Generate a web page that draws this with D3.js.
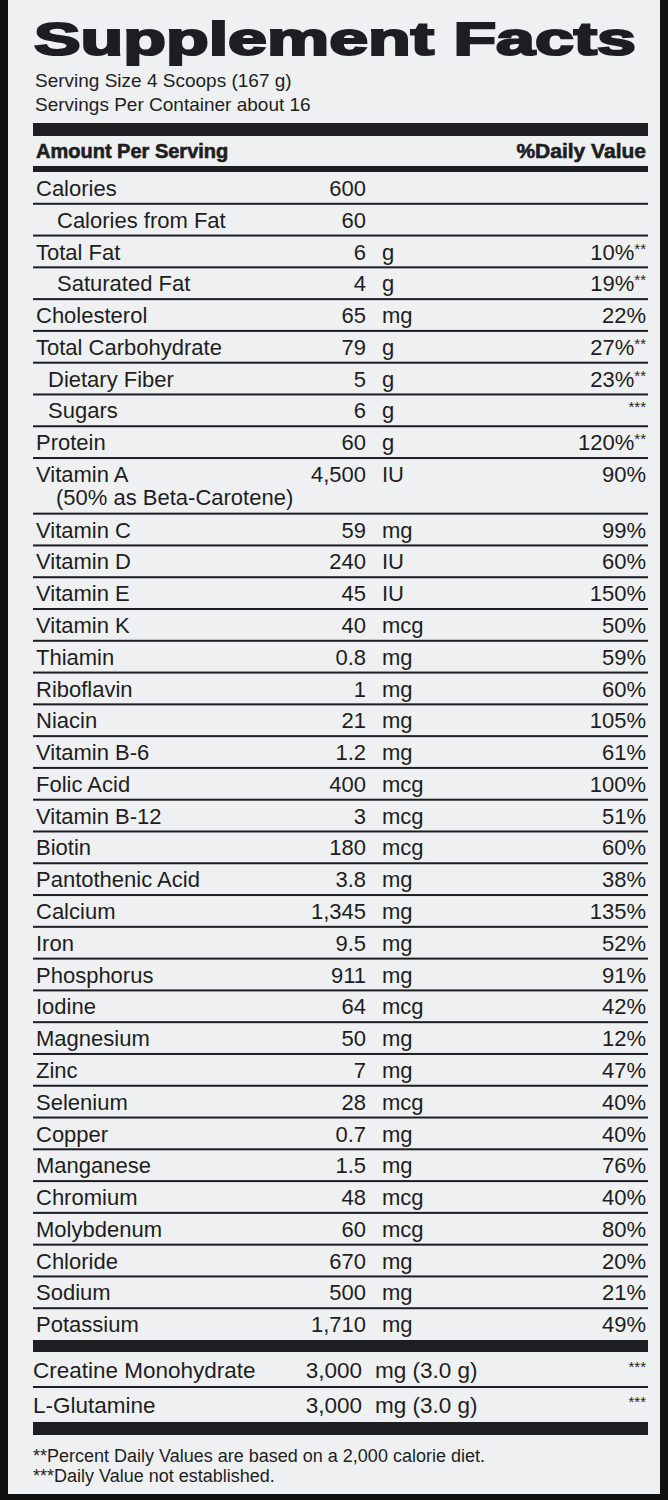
<!DOCTYPE html>
<html><head><meta charset="utf-8">
<script src="https://cdn.jsdelivr.net/npm/d3@7"></script>
<style>body{margin:0;background:#fff}</style>
</head><body>
<script>
const names = ["Calories","Calories from Fat","Total Fat","Saturated Fat","Cholesterol","Total Carbohydrate","Dietary Fiber","Sugars","Protein","Vitamin A","Vitamin C","Vitamin D","Vitamin E","Vitamin K","Thiamin","Riboflavin","Niacin","Vitamin B-6","Folic Acid","Vitamin B-12","Biotin","Pantothenic Acid","Calcium","Iron","Phosphorus","Iodine","Magnesium","Zinc","Selenium","Copper","Manganese","Chromium","Molybdenum","Chloride","Sodium","Potassium"];
const amounts = ["600","60","6","4","65","79","5","6","60","4,500","59","240","45","40","0.8","1","21","1.2","400","3","180","3.8","1,345","9.5","911","64","50","7","28","0.7","1.5","48","60","670","500","1,710"];
const units = ["","","g","g","mg","g","g","g","g","IU","mg","IU","IU","mcg","mg","mg","mg","mg","mcg","mcg","mcg","mg","mg","mg","mg","mcg","mg","mg","mcg","mg","mg","mcg","mcg","mg","mg","mg"];
const dvs = ["","","10%","19%","22%","27%","23%","","120%","90%","99%","60%","150%","50%","59%","60%","105%","61%","100%","51%","60%","38%","135%","52%","91%","42%","12%","47%","40%","40%","76%","40%","80%","20%","21%","49%"];
const marks = ["","","**","**","","**","**","***","**","","","","","","","","","","","","","","","","","","","","","","","","","","",""];
const indents = [0,21,0,21,0,0,12,12,0,0,0,0,0,0,0,0,0,0,0,0,0,0,0,0,0,0,0,0,0,0,0,0,0,0,0,0];
const rowUnits = names.map(n => n === "Vitamin A" ? 1.75 : 1);
const extraNames = ["Creatine Monohydrate","L-Glutamine"];
const extraAmounts = ["3,000","3,000"];
const extraUnits = ["mg (3.0 g)","mg (3.0 g)"];
const footnotes = ["**Percent Daily Values are based on a 2,000 calorie diet.","***Daily Value not established."];

const W=668,H=1500, L=33, R=648, ink="#1e1e22", fs=22;
const svg=d3.select("body").append("svg").attr("width",W).attr("height",H);
svg.append("rect").attr("width",W).attr("height",H).attr("fill","#111");
svg.append("rect").attr("x",8).attr("y",0).attr("width",W-16).attr("height",H-6).attr("fill","#eef0f1");
const font="'Liberation Sans', Arial, sans-serif";
const g=svg.append("g").attr("font-family",font).attr("fill",ink);

g.append("text").attr("x",34).attr("y",55).attr("font-size",47).attr("font-weight",900)
 .attr("stroke",ink).attr("stroke-width",2.2).attr("textLength",602).attr("lengthAdjust","spacingAndGlyphs").text("Supplement Facts");
g.append("text").attr("x",35).attr("y",87).attr("font-size",19).text("Serving Size 4 Scoops (167 g)");
g.append("text").attr("x",35).attr("y",111).attr("font-size",19).text("Servings Per Container about 16");
g.append("rect").attr("x",L).attr("y",123).attr("width",R-L).attr("height",13).attr("fill",ink);
g.append("text").attr("x",36).attr("y",158).attr("font-size",20).attr("font-weight",700).attr("stroke",ink).attr("stroke-width",0.6).text("Amount Per Serving");
g.append("text").attr("x",646).attr("y",158).attr("font-size",21).attr("font-weight",700).attr("stroke",ink).attr("stroke-width",0.6).attr("text-anchor","end").text("%Daily Value");
g.append("rect").attr("x",L).attr("y",166).attr("width",R-L).attr("height",6).attr("fill",ink);

const total=d3.sum(rowUnits);
const y=d3.scaleLinear().domain([0,total]).range([172,1340]);
let cum=0;
const rows=names.map((n,i)=>{const r={i,top:cum,h:rowUnits[i]};cum+=rowUnits[i];return r;});
const rg=g.selectAll("g.row").data(rows).join("g");
rg.each(function(r){
  const s=d3.select(this), i=r.i;
  const base=y(r.top)+24;
  s.append("text").attr("x",36+indents[i]).attr("y",base).attr("font-size",fs).text(names[i]);
  if(names[i]==="Vitamin A") s.append("text").attr("x",56).attr("y",base+23).attr("font-size",fs).text("(50% as Beta-Carotene)");
  s.append("text").attr("x",366).attr("y",base).attr("font-size",fs).attr("text-anchor","end").text(amounts[i]);
  s.append("text").attr("x",382).attr("y",base).attr("font-size",fs).text(units[i]);
  const t=s.append("text").attr("x",646).attr("y",base).attr("font-size",fs).attr("text-anchor","end");
  t.append("tspan").text(dvs[i]);
  if(marks[i]) t.append("tspan").attr("font-size",15).attr("dy",-6).text(marks[i]);
  if(i<names.length-1) s.append("rect").attr("x",L).attr("y",y(r.top+r.h)-1).attr("width",R-L).attr("height",2).attr("fill",ink);
});
g.append("rect").attr("x",L).attr("y",1340).attr("width",R-L).attr("height",12).attr("fill",ink);
const ey=d3.scaleLinear().domain([0,2]).range([1352,1422]);
extraNames.forEach((n,i)=>{
  const base=ey(i)+26;
  g.append("text").attr("x",33).attr("y",base).attr("font-size",22.5).text(n);
  g.append("text").attr("x",362).attr("y",base).attr("font-size",22.5).attr("text-anchor","end").text(extraAmounts[i]);
  g.append("text").attr("x",375).attr("y",base).attr("font-size",22.5).text(extraUnits[i]);
  g.append("text").attr("x",646).attr("y",base-6).attr("font-size",15).attr("text-anchor","end").text("***");
  if(i===0) g.append("rect").attr("x",L).attr("y",ey(1)-1).attr("width",R-L).attr("height",2).attr("fill",ink);
});
g.append("rect").attr("x",L).attr("y",1422).attr("width",R-L).attr("height",13).attr("fill",ink);
footnotes.forEach((f,i)=>g.append("text").attr("x",33).attr("y",1462+i*20).attr("font-size",18).text(f));
</script>
</body></html>
